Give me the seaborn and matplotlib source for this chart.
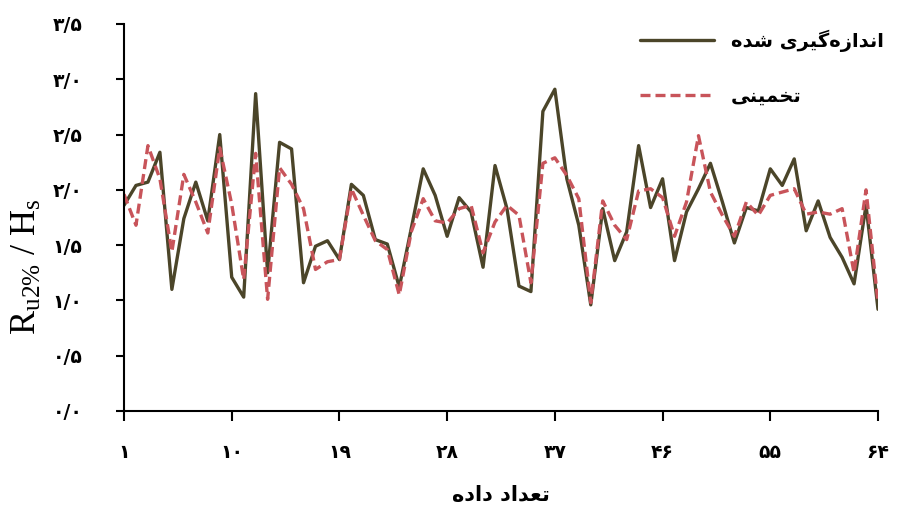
import numpy as np
import pandas as pd
import matplotlib
matplotlib.use("Agg")
import matplotlib.pyplot as plt
import seaborn as sns

# ---------------- data ----------------
index = list(range(1, 65))
measured = [1.86, 2.04, 2.07, 2.34, 1.10, 1.74, 2.07, 1.72, 2.50, 1.21,
            1.03, 2.87, 1.25, 2.43, 2.37, 1.16, 1.49, 1.54, 1.37, 2.05,
            1.95, 1.55, 1.51, 1.12, 1.65, 2.19, 1.95, 1.58, 1.93, 1.80,
            1.30, 2.22, 1.83, 1.13, 1.08, 2.71, 2.91, 2.10, 1.68, 0.96,
            1.83, 1.36, 1.62, 2.40, 1.84, 2.10, 1.36, 1.80, 2.01, 2.24,
            1.89, 1.52, 1.84, 1.81, 2.19, 2.04, 2.28, 1.63, 1.90, 1.57,
            1.39, 1.15, 1.86, 0.92]
estimated = [1.96, 1.68, 2.40, 2.10, 1.44, 2.14, 1.89, 1.61, 2.38, 1.87,
             1.19, 2.33, 1.01, 2.20, 2.05, 1.83, 1.28, 1.35, 1.37, 2.01,
             1.77, 1.54, 1.46, 1.05, 1.62, 1.92, 1.72, 1.70, 1.83, 1.86,
             1.43, 1.71, 1.86, 1.77, 1.16, 2.24, 2.29, 2.13, 1.92, 0.98,
             1.90, 1.68, 1.55, 1.99, 2.01, 1.93, 1.58, 1.89, 2.49, 1.98,
             1.77, 1.58, 1.89, 1.77, 1.95, 1.98, 2.01, 1.78, 1.80, 1.78,
             1.83, 1.25, 2.00, 0.98]
x_ticks = [1, 10, 19, 28, 37, 46, 55, 64]
x_tick_labels = ["۱", "۱۰", "۱۹", "۲۸", "۳۷", "۴۶", "۵۵", "۶۴"]
y_ticks = [0.0, 0.5, 1.0, 1.5, 2.0, 2.5, 3.0, 3.5]
y_tick_labels = ["۰/۰", "۰/۵", "۱/۰", "۱/۵", "۲/۰", "۲/۵", "۳/۰", "۳/۵"]
label_measured = "اندازه‌گیری شده"
label_estimated = "تخمینی"
x_title = "تعداد داده"

# ---------------- minimal Persian shaping (matplotlib has no shaping) ----------------
FORMS = {
    'ا': ('\uFE8D', '\uFE8E', None, None),
    'د': ('\uFEA9', '\uFEAA', None, None),
    'ر': ('\uFEAD', '\uFEAE', None, None),
    'ز': ('\uFEAF', '\uFEB0', None, None),
    'ن': ('\uFEE5', '\uFEE6', '\uFEE7', '\uFEE8'),
    'ه': ('\uFEE9', '\uFEEA', '\uFEEB', '\uFEEC'),
    'گ': ('\uFB92', '\uFB93', '\uFB94', '\uFB95'),
    'ی': ('\uFBFC', '\uFBFD', '\uFBFE', '\uFBFF'),
    'ش': ('\uFEB5', '\uFEB6', '\uFEB7', '\uFEB8'),
    'ت': ('\uFE95', '\uFE96', '\uFE97', '\uFE98'),
    'خ': ('\uFEA5', '\uFEA6', '\uFEA7', '\uFEA8'),
    'م': ('\uFEE1', '\uFEE2', '\uFEE3', '\uFEE4'),
    'ع': ('\uFEC9', '\uFECA', '\uFECB', '\uFECC'),
}


def shape(s):
    out = []
    for k, c in enumerate(s):
        if c not in FORMS:
            out.append(c)
            continue
        iso, fin, ini, med = FORMS[c]
        prev = s[k - 1] if k > 0 else None
        nxt = s[k + 1] if k + 1 < len(s) else None
        jp = prev in FORMS and FORMS[prev][2] is not None
        jn = nxt in FORMS and ini is not None
        if jp and jn:
            out.append(med)
        elif jp:
            out.append(fin)
        elif jn:
            out.append(ini)
        else:
            out.append(iso)
    return ''.join(reversed([o for o in out if o != '\u200c']))


# ---------------- plot ----------------
sns.set_theme(style="white")
plt.rcParams['font.family'] = ['DejaVu Sans']
plt.rcParams['mathtext.fontset'] = 'custom'
plt.rcParams['mathtext.rm'] = 'Liberation Serif'
plt.rcParams['mathtext.it'] = 'Liberation Serif:italic'
for key in ['text.color', 'axes.labelcolor', 'xtick.color', 'ytick.color']:
    plt.rcParams[key] = 'black'

df = pd.DataFrame({"n": index, "measured": measured, "estimated": estimated})

fig = plt.figure(figsize=(8.98, 5.17), dpi=100)
ax = fig.add_axes([124 / 898, 1 - 411 / 517, 754 / 898, 387 / 517])

solid_c = "#4b4529"
dash_c = "#c8545a"
sns.lineplot(data=df, x="n", y="measured", ax=ax, color=solid_c, lw=2.4,
             label=shape(label_measured))
sns.lineplot(data=df, x="n", y="estimated", ax=ax, color=dash_c, lw=2.4,
             dashes=False, linestyle=(0, (3.0, 1.5)), label=shape(label_estimated))

ax.set_xlim(1, 64)
ax.set_ylim(0, 3.5)
ax.set_xticks(x_ticks)
ax.set_xticklabels(x_tick_labels, fontsize=13.5, fontweight='bold')
ax.set_yticks(y_ticks)
ax.set_yticklabels(y_tick_labels, fontsize=13.5, fontweight='bold')
ax.tick_params(axis='x', bottom=True, direction='out', length=7, width=1.5,
               color='black', pad=16)
ax.tick_params(axis='y', left=True, direction='out', length=6, width=1.5,
               color='black', pad=24)
for s in ['top', 'right']:
    ax.spines[s].set_visible(False)
for s in ['left', 'bottom']:
    ax.spines[s].set_color('black')
    ax.spines[s].set_linewidth(1.5)

ax.set_xlabel(shape(x_title), fontsize=15, fontweight='bold')
ax.xaxis.set_label_coords(0.5, -0.19)
ax.set_ylabel(r"$\mathrm{R_{u2\%}\ /\ H_s}$", fontsize=26)
ax.yaxis.set_label_coords(-0.108, 0.372)

leg = ax.legend(loc='upper right', bbox_to_anchor=(884 / 898, 1 - 30 / 517),
                bbox_transform=fig.transFigure, frameon=False,
                prop={'weight': 'bold', 'size': 14}, handlelength=3.8,
                handletextpad=0.9, labelspacing=1.75, borderpad=0, borderaxespad=0)

fig.savefig("out.png", dpi=100, facecolor='white')
